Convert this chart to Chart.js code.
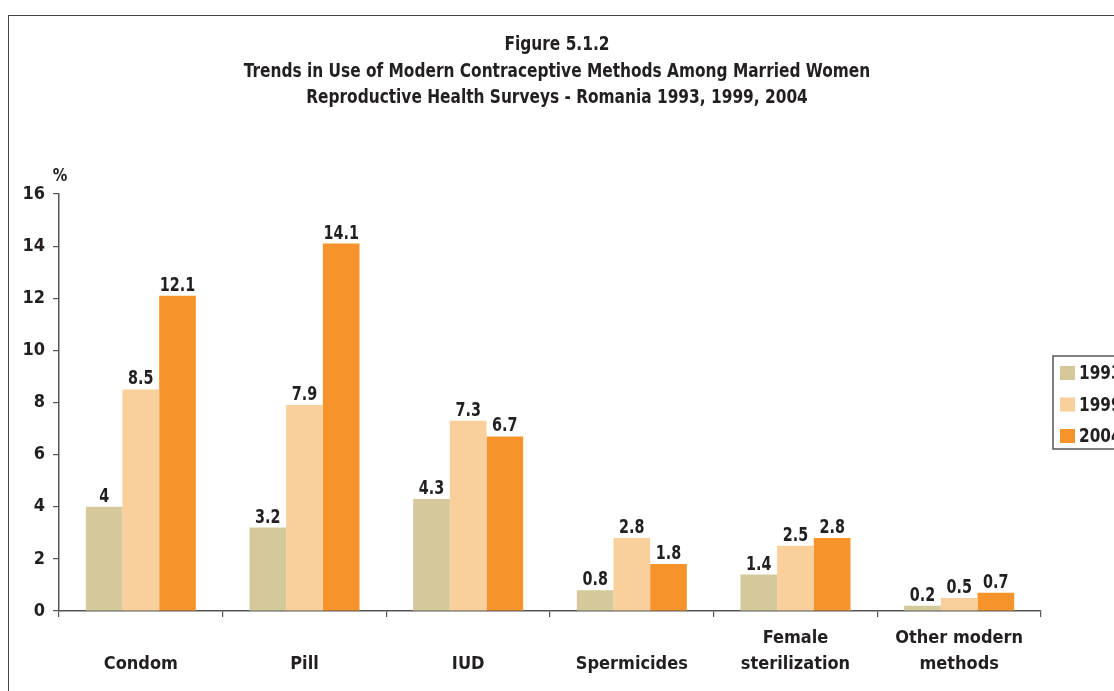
<!DOCTYPE html>
<html><head><meta charset="utf-8">
<script src="https://cdn.jsdelivr.net/npm/chart.js@4/dist/chart.umd.min.js"></script>
<style>
html,body{margin:0;padding:0;background:#fff;overflow:hidden}
#wrap{position:relative;width:1114px;height:691px}
#frame{position:absolute;left:8px;top:15px;width:1200px;height:800px;border:1.5px solid #444;box-sizing:border-box}
canvas{position:absolute;left:0;top:0}
</style></head><body>
<div id="wrap"><div id="frame"></div><canvas id="c" width="1114" height="691"></canvas></div>
<script>
const categories = [['', 'Condom'], ['', 'Pill'], ['', 'IUD'], ['', 'Spermicides'], ['Female', 'sterilization'], ['Other modern', 'methods']];
const seriesLabels = ['1993', '1999', '2004'];
const values1993 = [4, 3.2, 4.3, 0.8, 1.4, 0.2];
const values1999 = [8.5, 7.9, 7.3, 2.8, 2.5, 0.5];
const values2004 = [12.1, 14.1, 6.7, 1.8, 2.8, 0.7];
const yTickValues = [0, 2, 4, 6, 8, 10, 12, 14, 16];
const titleLines = ['Figure 5.1.2', 'Trends in Use of Modern Contraceptive Methods Among Married Women', 'Reproductive Health Surveys - Romania 1993, 1999, 2004'];
const yUnit = '%';

const colors = ['#d5c99c', '#f9cf9b', '#f6932b'];
const FONT = "'Liberation Sans Narrow', 'DejaVu Sans Condensed', 'Arial Narrow', sans-serif";
const TXT = '#231f20';

function drawScaled(ctx, text, x, y, sx) {
  ctx.save();
  ctx.translate(x, y);
  ctx.scale(sx, 1);
  ctx.fillText(text, 0, 0);
  ctx.restore();
}

const extras = {
  id: 'extras',
  afterDatasetsDraw(chart) {
    const ctx = chart.ctx;
    ctx.save();
    ctx.fillStyle = TXT;
    ctx.textAlign = 'center';
    ctx.textBaseline = 'alphabetic';
    ctx.font = 'bold 19px ' + FONT;
    chart.data.datasets.forEach((ds, di) => {
      const meta = chart.getDatasetMeta(di);
      meta.data.forEach((el, i) => {
        drawScaled(ctx, String(ds.data[i]), el.x, el.y - 5, 0.84);
      });
    });
    ctx.restore();
  },
  afterDraw(chart) {
    const ctx = chart.ctx;
    const ca = chart.chartArea;
    ctx.save();
    ctx.fillStyle = TXT;
    ctx.textAlign = 'center';
    ctx.textBaseline = 'middle';
    ctx.font = 'bold 19px ' + FONT;
    const cx = chart.width / 2;
    [45, 72, 98].forEach((y, i) => drawScaled(ctx, titleLines[i], cx, y, 0.9));
    ctx.font = 'bold 18px ' + FONT;
    drawScaled(ctx, yUnit, ca.left + 1, ca.top - 18, 0.9);
    // legend
    const lx = 1053, ly = 356, lw = 100, lh = 93;
    ctx.strokeStyle = '#555';
    ctx.lineWidth = 1.5;
    ctx.strokeRect(lx, ly, lw, lh);
    ctx.textAlign = 'left';
    ctx.font = 'bold 20px ' + FONT;
    chart.data.datasets.forEach((ds, i) => {
      const cy = 373 + i * 31.5;
      ctx.fillStyle = ds.backgroundColor;
      ctx.fillRect(1060, cy - 7, 15, 14);
      ctx.fillStyle = TXT;
      drawScaled(ctx, ds.label, 1079, cy + 1, 0.85);
    });
    ctx.restore();
  }
};

new Chart(document.getElementById('c'), {
  type: 'bar',
  data: {
    labels: categories,
    datasets: seriesLabels.map((lab, i) => ({
      label: lab,
      data: [values1993, values1999, values2004][i],
      backgroundColor: colors[i],
      borderWidth: 0,
      categoryPercentage: 0.672,
      barPercentage: 1.0
    }))
  },
  options: {
    responsive: false,
    animation: false,
    devicePixelRatio: 1,
    layout: { padding: { left: 0, top: 194, right: 73, bottom: 0 } },
    plugins: { legend: { display: false }, title: { display: false }, tooltip: { enabled: false } },
    scales: {
      x: {
        afterFit: (s) => { s.height = 80; },
        grid: { offset: true, drawOnChartArea: false, tickLength: 6, color: '#555', lineWidth: 1.2 },
        border: { display: true, color: '#555', width: 1.5 },
        ticks: { color: TXT, font: { family: FONT, size: 18, weight: 'bold', lineHeight: 1.45 }, padding: 8, maxRotation: 0, autoSkip: false }
      },
      y: {
        min: 0, max: 16,
        afterFit: (s) => { s.width = 59; },
        afterBuildTicks: (s) => { s.ticks = yTickValues.map(v => ({ value: v })); },
        grid: { drawOnChartArea: false, tickLength: 6, color: '#555', lineWidth: 1.2 },
        border: { display: true, color: '#555', width: 1.5 },
        ticks: { color: TXT, font: { family: FONT, size: 18, weight: 'bold' }, padding: 8 }
      }
    }
  },
  plugins: [extras]
});
</script>
</body></html>
